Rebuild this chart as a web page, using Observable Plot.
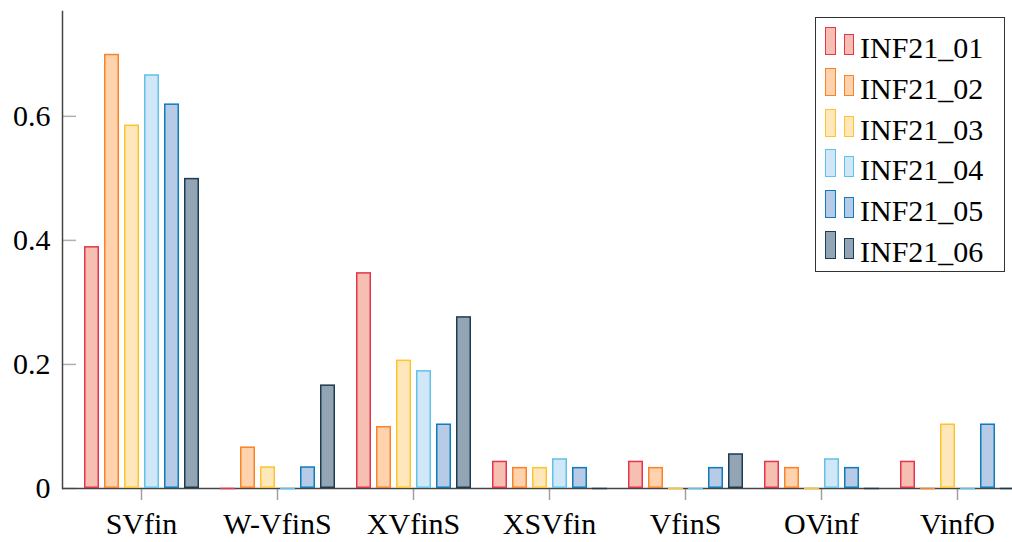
<!DOCTYPE html>
<html>
<head>
<meta charset="utf-8">
<script src="https://cdn.jsdelivr.net/npm/d3@7"></script>
<script src="https://cdn.jsdelivr.net/npm/@observablehq/plot@0.6"></script>
<style>
  html, body { margin: 0; padding: 0; background: white; }
  #wrap { position: relative; width: 1012px; height: 542px; font-family: "Liberation Serif", serif; }
  #legend { position: absolute; left: 815px; top: 17px; width: 190px; height: 255px; border: 1.5px solid #333; background: white; box-sizing: border-box; }
  .row { position: absolute; left: 0; height: 41px; width: 100%; }
  .sw { position: absolute; box-sizing: border-box; border-width: 1.5px; border-style: solid; }
  .lab { position: absolute; left: 44px; font-size: 30px; line-height: 30px; color: black; white-space: nowrap; }
</style>
</head>
<body>
<div id="wrap"><div id="legend"></div></div>
<script>
const categories = ["SVfin", "W-VfinS", "XVfinS", "XSVfin", "VfinS", "OVinf", "VinfO"];
const series = ["INF21_01", "INF21_02", "INF21_03", "INF21_04", "INF21_05", "INF21_06"];
const v01 = [0.39, 0, 0.348, 0.044, 0.044, 0.044, 0.044];
const v02 = [0.70, 0.067, 0.10, 0.034, 0.034, 0.034, 0];
const v03 = [0.586, 0.035, 0.207, 0.034, 0, 0, 0.104];
const v04 = [0.667, 0, 0.19, 0.048, 0, 0.048, 0];
const v05 = [0.62, 0.035, 0.104, 0.034, 0.034, 0.034, 0.104];
const v06 = [0.50, 0.167, 0.277, 0, 0.056, 0, 0];
const yTicks = [0, 0.2, 0.4, 0.6];
const fills = ["#f6bfb2", "#fdd2ad", "#fee7ba", "#cfe7f6", "#b8cbe6", "#93a5b5"];
const strokes = ["#e5344d", "#fa8328", "#fdc42d", "#62c1e6", "#0f7bbf", "#1d3c52"];

const values = [v01, v02, v03, v04, v05, v06];
const data = [];
categories.forEach((c, ci) => series.forEach((s, si) => data.push({cat: c, series: s, value: values[si][ci], fill: fills[si], stroke: strokes[si]})));

const chart = Plot.plot({
  width: 1012, height: 542,
  marginLeft: 73, marginRight: -13, marginTop: 11, marginBottom: 54,
  style: {fontFamily: "Liberation Serif", fontSize: "30px", color: "black", background: "white", overflow: "hidden"},
  fx: {domain: categories, padding: 0, label: null},
  x: {domain: series, paddingInner: 0.27, paddingOuter: 0.44, axis: null},
  y: {domain: [0, 0.769], label: null},
  marks: [
    Plot.axisY(yTicks, {tickSize: -14, text: null, stroke: "#b0b0b0", strokeWidth: 1.5, dx: -11, label: null}),
    Plot.axisY(yTicks, {tickSize: 0, tickPadding: 12, dx: -11, label: null, fill: "black", tickFormat: d => String(d)}),
    Plot.axisFx({anchor: "bottom", tickSize: 12, tickPadding: 12, stroke: "#a0a0a0", strokeWidth: 1.5, fill: "black", label: null}),
    Plot.ruleY([0], {dx: -11, stroke: "#444", strokeWidth: 1.5}),
    Plot.frame({anchor: "left", facetAnchor: "left", dx: -11, stroke: "#444", strokeWidth: 1.5}),
    Plot.barY(data, {fx: "cat", x: "series", y: "value", fill: "fill", stroke: "stroke", strokeWidth: 1.5, inset: 0.75}),
    Plot.tickY(data.filter(d => d.value === 0), {fx: "cat", x: "series", y: "value", stroke: "stroke", strokeWidth: 1.5})
  ]
});
document.getElementById("wrap").prepend(chart);

const legend = document.getElementById("legend");
series.forEach((s, i) => {
  const row = document.createElement("div");
  row.className = "row";
  row.style.top = (i * 40.8) + "px";
  const a = document.createElement("div");
  a.className = "sw";
  Object.assign(a.style, {left: "9px", top: "9px", width: "11px", height: "28px", background: fills[i], borderColor: strokes[i]});
  const b = document.createElement("div");
  b.className = "sw";
  Object.assign(b.style, {left: "28px", top: "16px", width: "10px", height: "21px", background: fills[i], borderColor: strokes[i]});
  const t = document.createElement("div");
  t.className = "lab";
  t.style.top = "15px";
  t.textContent = s;
  row.append(a, b, t);
  legend.append(row);
});
</script>
</body>
</html>
